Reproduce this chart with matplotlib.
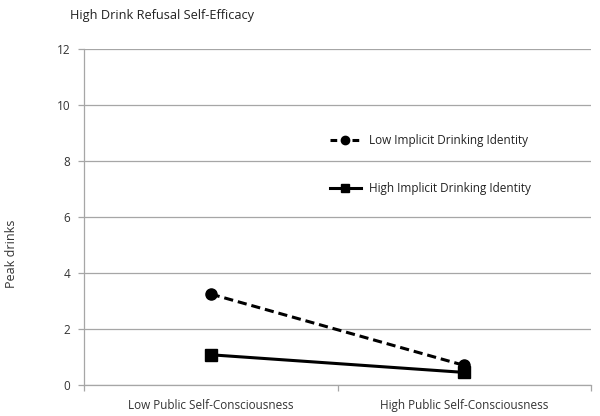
import matplotlib
matplotlib.use("Agg")
import matplotlib.pyplot as plt
from matplotlib.ticker import FixedLocator
from matplotlib.lines import Line2D

plt.rcParams['font.family'] = ['Open Sans', 'DejaVu Sans']

categories = ["Low Public Self-Consciousness", "High Public Self-Consciousness"]
low_identity = [3.25, 0.7]
high_identity = [1.08, 0.45]
series_labels = ["Low Implicit Drinking Identity", "High Implicit Drinking Identity"]
yticks = [0, 2, 4, 6, 8, 10, 12]

fig = plt.figure(figsize=(6.0, 4.16), dpi=100)
ax = fig.add_axes([0.14, 0.0745, 0.845, 0.8075])

x = [0.5, 1.5]
dash = (0, (3, 1.6))
ax.plot(x, low_identity, color='black', linestyle=dash, linewidth=2.2,
        marker='o', markersize=8)
ax.plot(x, high_identity, color='black', linestyle='-', linewidth=2.2,
        marker='s', markersize=8)

ax.set_xlim(0, 2)
ax.set_ylim(0, 12)
ax.set_yticks(yticks)
ax.yaxis.grid(True, color='#a6a6a6', linewidth=0.9)
ax.set_axisbelow(True)
ax.set_xticks(x)
ax.set_xticklabels(categories, fontsize=8.5, color='#333333')
ax.tick_params(axis='x', length=0, pad=10)
ax.xaxis.set_minor_locator(FixedLocator([0, 1, 2]))
ax.tick_params(axis='x', which='minor', length=4, color='#a6a6a6', width=0.9)
ax.tick_params(axis='y', length=4, color='#a6a6a6', width=0.9, labelsize=8.5,
               labelcolor='#333333', pad=6)
for s in ['top', 'right']:
    ax.spines[s].set_visible(False)
for s in ['left', 'bottom']:
    ax.spines[s].set_color('#a6a6a6')
    ax.spines[s].set_linewidth(0.9)

ax.set_ylabel("Peak drinks", fontsize=9, color='#333333')
ax.yaxis.set_label_coords(-0.13, 0.39)
fig.text(0.117, 0.962, "High Drink Refusal Self-Efficacy", fontsize=9.2, color='#222222',
         ha='left', va='center')

handles = [
    Line2D([], [], color='black', linestyle=(0, (2.2, 1.4)), linewidth=2.2, marker='o', markersize=6),
    Line2D([], [], color='black', linestyle='-', linewidth=2.2, marker='s', markersize=6),
]
leg = ax.legend(handles, series_labels, loc='upper left', bbox_to_anchor=(0.485, 0.748),
                frameon=False, fontsize=8.5, handlelength=2.6, handletextpad=0.7,
                labelspacing=3.0, borderaxespad=0, borderpad=0)
for t in leg.get_texts():
    t.set_color('#222222')

fig.savefig("out.png", dpi=100)
